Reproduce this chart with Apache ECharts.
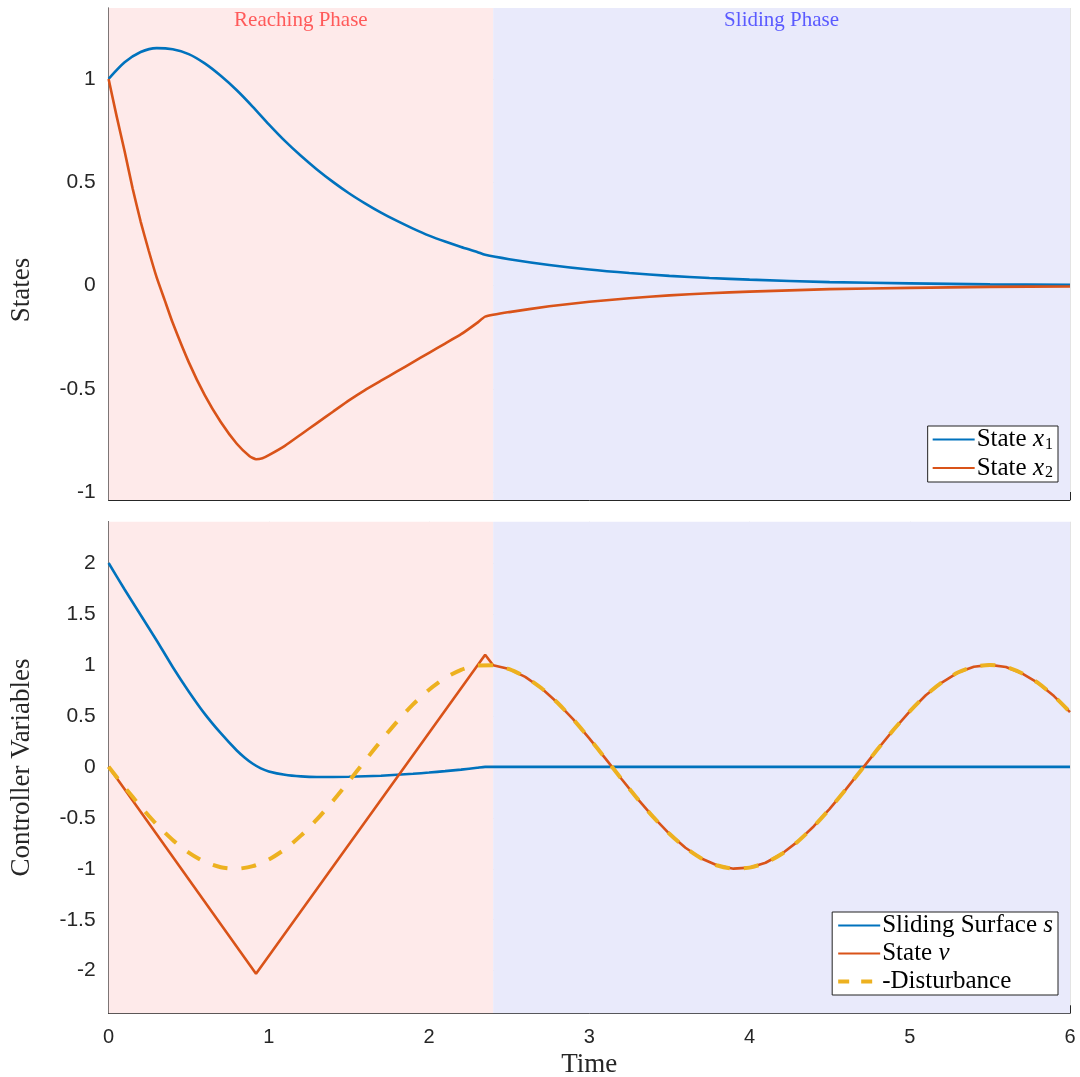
<!DOCTYPE html>
<html>
<head>
<meta charset="utf-8">
<script src="https://cdn.jsdelivr.net/npm/echarts@6/dist/echarts.min.js"></script>
<style>
html,body{margin:0;padding:0;background:#fff;}
#chart{width:1080px;height:1077px;}
</style>
</head>
<body>
<div id="chart"></div>
<script>
// ---------- data ----------
const xTicks = [0, 1, 2, 3, 4, 5, 6];
const yTicksTop = [-1, -0.5, 0, 0.5, 1];
const yTicksBottom = [-2, -1.5, -1, -0.5, 0, 0.5, 1, 1.5, 2];
const phaseBoundary = 2.4;
const phaseNames = ['Reaching Phase', 'Sliding Phase'];

const tX1 = [0,0.1,0.2,0.3,0.4,0.5,0.6,0.7,0.8,0.9,1.0,1.1,1.2,1.3,1.4,1.5,1.6,1.7,1.8,1.9,2.0,2.1,2.2,2.3,2.35,2.5,2.75,3,3.25,3.5,3.75,4,4.5,5,5.5,6];
const x1Vals = [1.0,1.08,1.13,1.149,1.143,1.12,1.075,1.015,0.945,0.865,0.78,0.7,0.628,0.562,0.502,0.447,0.398,0.353,0.313,0.276,0.242,0.213,0.187,0.163,0.149,0.128,0.1,0.078,0.061,0.047,0.037,0.029,0.017,0.011,0.006,0.004];

const tX2 = [0,0.05,0.1,0.15,0.2,0.25,0.3,0.35,0.4,0.5,0.6,0.7,0.8,0.88,0.92,0.96,1.0,1.1,1.2,1.3,1.4,1.5,1.6,1.7,1.8,1.9,2.0,2.1,2.2,2.3,2.35,2.5,2.75,3,3.25,3.5,3.75,4,4.5,5,5.5,6];
const x2Vals = [1.0,0.82,0.65,0.47,0.31,0.17,0.04,-0.07,-0.18,-0.37,-0.53,-0.66,-0.765,-0.825,-0.84,-0.835,-0.82,-0.775,-0.72,-0.665,-0.61,-0.555,-0.505,-0.46,-0.415,-0.37,-0.325,-0.28,-0.235,-0.18,-0.15,-0.128,-0.1,-0.078,-0.061,-0.047,-0.037,-0.029,-0.017,-0.011,-0.006,-0.004];

const tS = [0,0.1,0.2,0.3,0.4,0.5,0.6,0.7,0.8,0.85,0.9,0.95,1.0,1.1,1.2,1.3,1.5,1.7,1.9,2.0,2.1,2.2,2.3,2.35,6];
const sVals = [2.0,1.74,1.49,1.24,0.98,0.74,0.52,0.33,0.16,0.09,0.03,-0.015,-0.045,-0.078,-0.094,-0.1,-0.097,-0.087,-0.068,-0.056,-0.042,-0.027,-0.009,0,0];

const tD = [0,0.1,0.2,0.3,0.4,0.5,0.6,0.7,0.8,0.9,1.0,1.1,1.2,1.3,1.4,1.5,1.6,1.7,1.8,1.9,2.0,2.1,2.2,2.3,2.4,2.5,2.6,2.7,2.8,2.9,3.0,3.1,3.2,3.3,3.4,3.5,3.6,3.7,3.8,3.9,4.0,4.1,4.2,4.3,4.4,4.5,4.6,4.7,4.8,4.9,5.0,5.1,5.2,5.3,5.4,5.5,5.6,5.7,5.8,5.9,6.0];
const dVals = [0,-0.199,-0.389,-0.565,-0.717,-0.841,-0.932,-0.985,-1.0,-0.974,-0.909,-0.808,-0.675,-0.516,-0.335,-0.141,0.058,0.256,0.443,0.612,0.757,0.872,0.952,0.994,0.996,0.959,0.883,0.773,0.631,0.465,0.279,0.083,-0.117,-0.312,-0.494,-0.657,-0.794,-0.899,-0.968,-0.999,-0.989,-0.941,-0.855,-0.734,-0.585,-0.412,-0.223,-0.025,0.174,0.366,0.544,0.702,0.827,0.925,0.982,1.0,0.98,0.918,0.823,0.694,0.537];

const tV = [0,0.92,2.35,2.4,2.5,2.6,2.7,2.8,2.9,3.0,3.1,3.2,3.3,3.4,3.5,3.6,3.7,3.8,3.9,4.0,4.1,4.2,4.3,4.4,4.5,4.6,4.7,4.8,4.9,5.0,5.1,5.2,5.3,5.4,5.5,5.6,5.7,5.8,5.9,6.0];
const vVals = [0,-2.03,1.1,0.996,0.959,0.883,0.773,0.631,0.465,0.279,0.083,-0.117,-0.312,-0.494,-0.657,-0.794,-0.899,-0.968,-0.999,-0.989,-0.941,-0.855,-0.734,-0.585,-0.412,-0.223,-0.025,0.174,0.366,0.544,0.702,0.827,0.925,0.982,1.0,0.98,0.918,0.823,0.694,0.537];

// ---------- styling ----------
const C_BLUE = '#0072BD', C_ORANGE = '#D95319', C_YELLOW = '#EDB120';
const SERIF = 'Liberation Serif';
const SANS = 'Liberation Sans';
const AX = '#262626';
const GRIDLINE = 'rgba(0,0,0,0.11)';

const zip = (t, v) => t.map((x, i) => [x, v[i]]);

function xAxisCfg(gridIndex, showLabels) {
  return {
    type: 'value', gridIndex, min: xTicks[0], max: xTicks[xTicks.length - 1], interval: 1,
    axisLine: {show: true, onZero: false, lineStyle: {color: AX, width: 1}},
    axisTick: {show: true, inside: true, length: 8, lineStyle: {color: AX}},
    axisLabel: {show: showLabels, color: AX, fontFamily: SANS, fontSize: 20, margin: 14},
    splitLine: {show: true, lineStyle: {color: GRIDLINE, width: 1}},
    name: showLabels ? 'Time' : '', nameLocation: 'middle', nameGap: 38,
    nameTextStyle: {fontFamily: SERIF, fontSize: 27, color: AX}
  };
}
function yAxisCfg(gridIndex, min, max, splitNumber, ticks, name, nameGap, shift) {
  const step = 0.5;
  const isTick = v => ticks.some(t => Math.abs(t - v) < 1e-6);
  return {
    type: 'value', gridIndex, min, max, splitNumber,
    axisLine: {show: true, onZero: false, lineStyle: {color: AX, width: 1}},
    axisTick: {show: true, inside: true, length: 8, lineStyle: {color: AX}, customValues: ticks},
    axisLabel: {color: AX, fontFamily: SANS, fontSize: 21, margin: 13, customValues: ticks,
      formatter: v => isTick(v) ? String(+(Math.round(v / step) * step).toFixed(2)) : ''},
    splitLine: {show: true, lineStyle: {color: GRIDLINE, width: 1}},
    name, nameLocation: 'middle', nameGap,
    nameTextStyle: {fontFamily: SERIF, fontSize: 27, color: AX, padding: [0, shift * 2, 0, 0]}
  };
}

function phaseArea(withLabels) {
  const lab = (txt, col) => withLabels
    ? {show: true, position: 'insideTop', distance: 2, formatter: txt, color: col, fontFamily: SERIF, fontSize: 21}
    : {show: false};
  return {
    silent: true,
    data: [
      [{xAxis: 0, itemStyle: {color: '#FEEAEA'}, label: lab(phaseNames[0], '#FF5A5A')}, {xAxis: phaseBoundary}],
      [{xAxis: phaseBoundary, itemStyle: {color: '#E9EAFB'}, label: lab(phaseNames[1], '#5A5AFF')}, {xAxis: 6}]
    ]
  };
}

const FS = 25;
const rich = {
  n: {fontFamily: SERIF, fontSize: FS, color: '#000'},
  i: {fontFamily: SERIF, fontSize: FS, fontStyle: 'italic', color: '#000'},
  sub: {fontFamily: SERIF, fontSize: 16, color: '#000', verticalAlign: 'bottom', padding: [10, 0, 0, 1]}
};
const legendText = {
  'State x1': '{n|State }{i|x}{sub|1}',
  'State x2': '{n|State }{i|x}{sub|2}',
  'Sliding Surface s': '{n|Sliding Surface }{i|s}',
  'State v': '{n|State }{i|v}',
  '-Disturbance': '{n|-Disturbance}'
};
function legendCfg(names, top) {
  return {
    data: names.map(n => n === '-Disturbance' ? {name: n, lineStyle: {type: [11, 12], width: 4}} : {name: n}),
    orient: 'vertical', right: 22, top,
    backgroundColor: '#fff', borderColor: '#222', borderWidth: 1,
    padding: [1, 5, 1, 4], itemGap: 3, itemWidth: 42, itemHeight: 20,
    itemStyle: {opacity: 0},
    formatter: n => legendText[n],
    textStyle: {rich, padding: [0, 0, 0, -3]}
  };
}

const chart = echarts.init(document.getElementById('chart'), null, {renderer: 'canvas'});
chart.setOption({
  backgroundColor: '#fff',
  animation: false,
  grid: [
    {left: 108.6, right: 10, top: 8, height: 492, containLabel: false, outerBoundsMode: 'none'},
    {left: 108.6, right: 10, top: 521.7, height: 491.6, containLabel: false, outerBoundsMode: 'none'}
  ],
  xAxis: [xAxisCfg(0, false), xAxisCfg(1, true)],
  yAxis: [
    yAxisCfg(0, -1.037, 1.343, 5, yTicksTop, 'States', 73, 36),
    yAxisCfg(1, -2.418, 2.405, 10, yTicksBottom, 'Controller Variables', 73, 0)
  ],
  legend: [
    legendCfg(['State x1', 'State x2'], 426),
    legendCfg(['Sliding Surface s', 'State v', '-Disturbance'], 912)
  ],
  series: [
    {name: 'State x1', type: 'line', xAxisIndex: 0, yAxisIndex: 0, data: zip(tX1, x1Vals), smooth: 0.25,
      showSymbol: false, symbol: 'none', lineStyle: {color: C_BLUE, width: 2.6}, itemStyle: {color: C_BLUE},
      markArea: phaseArea(true), z: 3},
    {name: 'State x2', type: 'line', xAxisIndex: 0, yAxisIndex: 0, data: zip(tX2, x2Vals), smooth: 0.15,
      showSymbol: false, symbol: 'none', lineStyle: {color: C_ORANGE, width: 2.6}, itemStyle: {color: C_ORANGE}, z: 3},
    {name: 'Sliding Surface s', type: 'line', xAxisIndex: 1, yAxisIndex: 1, data: zip(tS, sVals), smooth: 0.2,
      showSymbol: false, symbol: 'none', lineStyle: {color: C_BLUE, width: 2.6}, itemStyle: {color: C_BLUE},
      markArea: phaseArea(false), z: 3},
    {name: 'State v', type: 'line', xAxisIndex: 1, yAxisIndex: 1, data: zip(tV, vVals),
      showSymbol: false, symbol: 'none', lineStyle: {color: C_ORANGE, width: 2.6}, itemStyle: {color: C_ORANGE}, z: 3},
    {name: '-Disturbance', type: 'line', xAxisIndex: 1, yAxisIndex: 1, data: zip(tD, dVals), smooth: 0.25,
      showSymbol: false, symbol: 'none', lineStyle: {color: C_YELLOW, width: 4, type: [15, 14]}, itemStyle: {color: C_YELLOW}, z: 4}
  ]
});
</script>
</body>
</html>
